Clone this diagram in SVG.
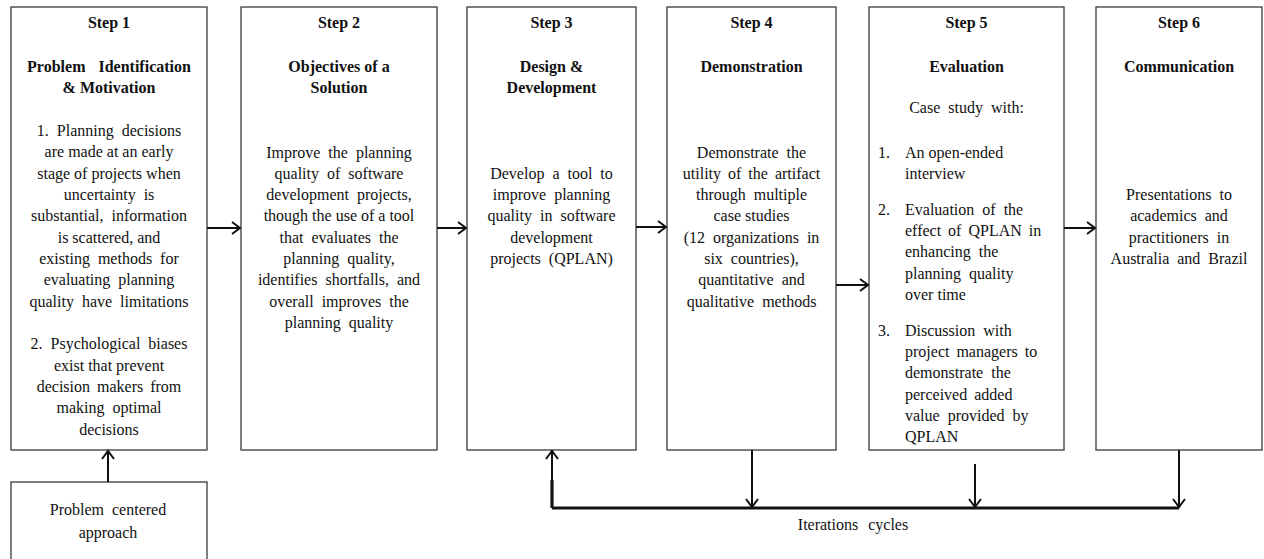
<svg xmlns="http://www.w3.org/2000/svg" width="1264" height="559" viewBox="0 0 1264 559">
<style>
.box{fill:#fff;stroke:#3a3a3a;stroke-width:1.3}
text{font-family:"Liberation Serif","Times New Roman",serif;font-size:16px;fill:#111}
.c{text-anchor:middle}
.b{font-weight:bold}
.ln{fill:none;stroke:#111;stroke-width:2}
.thick{fill:none;stroke:#111;stroke-width:3.2}
</style>
<defs>
<marker id="ah" markerUnits="userSpaceOnUse" markerWidth="12" markerHeight="14" refX="9" refY="7" orient="auto">
<path d="M1,1 L9,7 L1,13" fill="none" stroke="#111" stroke-width="2"/>
</marker>
</defs>
<rect width="1264" height="559" fill="#fff"/>

<g id="step1">
<rect class="box" x="11" y="7" width="196" height="443"/>
<text class="c b" x="109" y="28">Step 1</text>
<text class="c b" x="109" y="72" word-spacing="9">Problem Identification</text>
<text class="c b" x="109" y="93">&amp; Motivation</text>
<text class="c" x="109" y="136" word-spacing="4">1. Planning decisions</text>
<text class="c" x="109" y="157">are made at an early</text>
<text class="c" x="109" y="179">stage of projects when</text>
<text class="c" x="109" y="200" word-spacing="4">uncertainty is</text>
<text class="c" x="109" y="221" word-spacing="4">substantial, information</text>
<text class="c" x="109" y="243">is scattered, and</text>
<text class="c" x="109" y="264" word-spacing="4">existing methods for</text>
<text class="c" x="109" y="285" word-spacing="4">evaluating planning</text>
<text class="c" x="109" y="307" word-spacing="4">quality have limitations</text>
<text class="c" x="109" y="349" word-spacing="4">2. Psychological biases</text>
<text class="c" x="109" y="371">exist that prevent</text>
<text class="c" x="109" y="392" word-spacing="3">decision makers from</text>
<text class="c" x="109" y="413" word-spacing="4">making optimal</text>
<text class="c" x="109" y="435">decisions</text>
</g>

<g id="step2">
<rect class="box" x="241" y="7" width="196" height="443"/>
<text class="c b" x="339" y="28">Step 2</text>
<text class="c b" x="339" y="72">Objectives of a</text>
<text class="c b" x="339" y="93">Solution</text>
<text class="c" x="339" y="158" word-spacing="4">Improve the planning</text>
<text class="c" x="339" y="179" word-spacing="4">quality of software</text>
<text class="c" x="339" y="200" word-spacing="4">development projects,</text>
<text class="c" x="339" y="221">though the use of a tool</text>
<text class="c" x="339" y="243" word-spacing="4">that evaluates the</text>
<text class="c" x="339" y="264" word-spacing="4">planning quality,</text>
<text class="c" x="339" y="285" word-spacing="4">identifies shortfalls, and</text>
<text class="c" x="339" y="307" word-spacing="4">overall improves the</text>
<text class="c" x="339" y="328" word-spacing="4">planning quality</text>
</g>

<g id="step3">
<rect class="box" x="467" y="7" width="169" height="443"/>
<text class="c b" x="551.5" y="28">Step 3</text>
<text class="c b" x="551.5" y="72">Design &amp;</text>
<text class="c b" x="551.5" y="93">Development</text>
<text class="c" x="551.5" y="179" word-spacing="4">Develop a tool to</text>
<text class="c" x="551.5" y="200" word-spacing="4">improve planning</text>
<text class="c" x="551.5" y="221" word-spacing="4">quality in software</text>
<text class="c" x="551.5" y="243">development</text>
<text class="c" x="551.5" y="264" word-spacing="4">projects (QPLAN)</text>
</g>

<g id="step4">
<rect class="box" x="667" y="7" width="169" height="443"/>
<text class="c b" x="751.5" y="28">Step 4</text>
<text class="c b" x="751.5" y="72">Demonstration</text>
<text class="c" x="751.5" y="158" word-spacing="4">Demonstrate the</text>
<text class="c" x="751.5" y="179" word-spacing="3">utility of the artifact</text>
<text class="c" x="751.5" y="200" word-spacing="4">through multiple</text>
<text class="c" x="751.5" y="221">case studies</text>
<text class="c" x="751.5" y="243" word-spacing="4">(12 organizations in</text>
<text class="c" x="751.5" y="264" word-spacing="4">six countries),</text>
<text class="c" x="751.5" y="285" word-spacing="4">quantitative and</text>
<text class="c" x="751.5" y="307" word-spacing="4">qualitative methods</text>
</g>

<g id="step5">
<rect class="box" x="869" y="7" width="195" height="443"/>
<text class="c b" x="966.5" y="28">Step 5</text>
<text class="c b" x="966.5" y="72">Evaluation</text>
<text class="c" x="966.5" y="113" word-spacing="4">Case study with:</text>
<text x="878" y="158">1.</text>
<text x="905" y="158">An open-ended</text>
<text x="905" y="179">interview</text>
<text x="878" y="215">2.</text>
<text x="905" y="215" word-spacing="4">Evaluation of the</text>
<text x="905" y="236" word-spacing="3">effect of QPLAN in</text>
<text x="905" y="257" word-spacing="4">enhancing the</text>
<text x="905" y="279" word-spacing="4">planning quality</text>
<text x="905" y="300">over time</text>
<text x="878" y="336">3.</text>
<text x="905" y="336" word-spacing="4">Discussion with</text>
<text x="905" y="357" word-spacing="3">project managers to</text>
<text x="905" y="378" word-spacing="4">demonstrate the</text>
<text x="905" y="400" word-spacing="3">perceived added</text>
<text x="905" y="421" word-spacing="4">value provided by</text>
<text x="905" y="442">QPLAN</text>
</g>

<g id="step6">
<rect class="box" x="1096" y="7" width="166" height="443"/>
<text class="c b" x="1179" y="28">Step 6</text>
<text class="c b" x="1179" y="72">Communication</text>
<text class="c" x="1179" y="200" word-spacing="4">Presentations to</text>
<text class="c" x="1179" y="221" word-spacing="4">academics and</text>
<text class="c" x="1179" y="243" word-spacing="4">practitioners in</text>
<text class="c" x="1179" y="264" word-spacing="4">Australia and Brazil</text>
</g>

<g id="problem-centered">
<rect class="box" x="11" y="482" width="196" height="80"/>
<text class="c" x="108" y="515" word-spacing="4">Problem centered</text>
<text class="c" x="108" y="538">approach</text>
</g>

<g id="iterations-label">
<text class="c" x="853" y="530" word-spacing="6">Iterations cycles</text>
</g>

<g id="connectors">
<line class="ln" x1="207" y1="228" x2="240" y2="228" marker-end="url(#ah)"/>
<line class="ln" x1="437" y1="228" x2="466" y2="228" marker-end="url(#ah)"/>
<line class="ln" x1="636" y1="227" x2="666" y2="227" marker-end="url(#ah)"/>
<line class="ln" x1="836" y1="285" x2="868" y2="285" marker-end="url(#ah)"/>
<line class="ln" x1="1064" y1="228" x2="1095" y2="228" marker-end="url(#ah)"/>
<line class="ln" x1="108" y1="482" x2="108" y2="451" marker-end="url(#ah)"/>
<polyline class="thick" points="552,508 552,480"/>
<line class="ln" x1="552" y1="480" x2="552" y2="451" marker-end="url(#ah)"/>
<polyline class="thick" points="552,508 1179,508"/>
<line class="ln" x1="752" y1="450" x2="752" y2="507" marker-end="url(#ah)"/>
<line class="ln" x1="975" y1="464" x2="975" y2="507" marker-end="url(#ah)"/>
<line class="ln" x1="1179" y1="450" x2="1179" y2="507" marker-end="url(#ah)"/>
</g>
</svg>
